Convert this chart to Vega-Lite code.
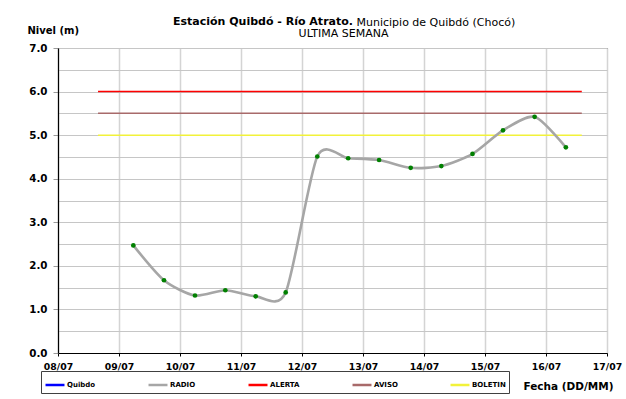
{
  "$schema": "https://vega.github.io/schema/vega-lite/v6.json",
  "autosize": {"type": "none"},
  "padding": {"left": 58, "top": 48, "right": 19, "bottom": 46},
  "width": 549,
  "height": 305,
  "background": "white",
  "title": {
    "text": "Estación Quibdó - Río Atrato.",
    "anchor": "start",
    "frame": "group",
    "dx": 115,
    "dy": 11,
    "font": "DejaVu Sans",
    "fontSize": 11,
    "fontWeight": "bold",
    "color": "black",
    "offset": 0
  },
  "datasets": {
    "radio": [
      {"fecha": "2024-07-09T05:38:00Z", "nivel": 2.47, "serie": "RADIO"},
      {"fecha": "2024-07-09T17:42:00Z", "nivel": 1.67, "serie": "RADIO"},
      {"fecha": "2024-07-10T05:54:00Z", "nivel": 1.32, "serie": "RADIO"},
      {"fecha": "2024-07-10T17:50:00Z", "nivel": 1.44, "serie": "RADIO"},
      {"fecha": "2024-07-11T05:47:00Z", "nivel": 1.30, "serie": "RADIO"},
      {"fecha": "2024-07-11T17:35:00Z", "nivel": 1.39, "serie": "RADIO"},
      {"fecha": "2024-07-12T06:01:00Z", "nivel": 4.51, "serie": "RADIO"},
      {"fecha": "2024-07-12T18:10:00Z", "nivel": 4.47, "serie": "RADIO"},
      {"fecha": "2024-07-13T06:20:00Z", "nivel": 4.43, "serie": "RADIO"},
      {"fecha": "2024-07-13T18:46:00Z", "nivel": 4.25, "serie": "RADIO"},
      {"fecha": "2024-07-14T06:49:00Z", "nivel": 4.29, "serie": "RADIO"},
      {"fecha": "2024-07-14T19:05:00Z", "nivel": 4.57, "serie": "RADIO"},
      {"fecha": "2024-07-15T07:05:00Z", "nivel": 5.11, "serie": "RADIO"},
      {"fecha": "2024-07-15T19:31:00Z", "nivel": 5.42, "serie": "RADIO"},
      {"fecha": "2024-07-16T07:49:00Z", "nivel": 4.72, "serie": "RADIO"}
    ],
    "umbrales": [
      {"serie": "ALERTA", "nivel": 6.0, "inicio": "2024-07-08T15:45:00Z", "fin": "2024-07-16T14:05:00Z"},
      {"serie": "AVISO", "nivel": 5.5, "inicio": "2024-07-08T15:45:00Z", "fin": "2024-07-16T14:05:00Z"},
      {"serie": "BOLETIN", "nivel": 5.0, "inicio": "2024-07-08T15:45:00Z", "fin": "2024-07-16T14:05:00Z"}
    ]
  },
  "resolve": {"axis": {"x": "independent", "y": "independent"}},
  "layer": [
    {
      "data": {"name": "umbrales"},
      "mark": {"type": "rule", "strokeWidth": 1.5},
      "encoding": {
        "x": {
          "field": "inicio",
          "type": "temporal",
          "scale": {
            "type": "utc",
            "domain": [
              {"year": 2024, "month": 7, "date": 8, "utc": true},
              {"year": 2024, "month": 7, "date": 17, "utc": true}
            ]
          },
          "axis": {
            "orient": "bottom",
            "values": [
              {"year": 2024, "month": 7, "date": 8, "utc": true},
              {"year": 2024, "month": 7, "date": 9, "utc": true},
              {"year": 2024, "month": 7, "date": 10, "utc": true},
              {"year": 2024, "month": 7, "date": 11, "utc": true},
              {"year": 2024, "month": 7, "date": 12, "utc": true},
              {"year": 2024, "month": 7, "date": 13, "utc": true},
              {"year": 2024, "month": 7, "date": 14, "utc": true},
              {"year": 2024, "month": 7, "date": 15, "utc": true},
              {"year": 2024, "month": 7, "date": 16, "utc": true},
              {"year": 2024, "month": 7, "date": 17, "utc": true}
            ],
            "format": "%d/%m",
            "labelFont": "DejaVu Sans",
            "labelFontWeight": "bold",
            "labelFontSize": 9.3,
            "labelColor": "black",
            "labelPadding": 6,
            "labelFlush": false,
            "labelOverlap": false,
            "tickSize": 3,
            "tickColor": "black",
            "domainColor": "black",
            "domainWidth": 1.2,
            "grid": true,
            "gridColor": "#d4d4d4",
            "gridWidth": 1.5,
            "title": "Fecha (DD/MM)",
            "titleFont": "DejaVu Sans",
            "titleFontWeight": "bold",
            "titleFontSize": 10.5,
            "titleColor": "black",
            "titleAlign": "right",
            "titleAnchor": null,
            "titleBaseline": "alphabetic",
            "titleX": 555,
            "titleY": 36
          }
        },
        "x2": {"field": "fin"},
        "y": {
          "field": "nivel",
          "type": "quantitative",
          "scale": {"domain": [0, 7], "nice": false, "zero": true},
          "axis": {
            "orient": "left",
            "values": [0, 0.5, 1, 1.5, 2, 2.5, 3, 3.5, 4, 4.5, 5, 5.5, 6, 6.5, 7],
            "labelExpr": "datum.value % 1 === 0 ? format(datum.value, '.1f') : ''",
            "tickOpacity": {"condition": {"test": "datum.value % 1 === 0", "value": 1}, "value": 0},
            "tickSize": 5,
            "tickColor": "#9a9a9a",
            "labelFont": "DejaVu Sans",
            "labelFontWeight": "bold",
            "labelFontSize": 10.3,
            "labelColor": "black",
            "labelPadding": 6,
            "labelFlush": false,
            "labelOverlap": false,
            "domainColor": "black",
            "domainWidth": 1.2,
            "grid": true,
            "gridColor": "#c6c6c6",
            "gridWidth": 1,
            "title": "Nivel (m)",
            "titleFont": "DejaVu Sans",
            "titleFontWeight": "bold",
            "titleFontSize": 10,
            "titleColor": "black",
            "titleAngle": 0,
            "titleAlign": "left",
            "titleAnchor": null,
            "titleBaseline": "alphabetic",
            "titleX": -31,
            "titleY": -15
          }
        },
        "color": {
          "field": "serie",
          "type": "nominal",
          "scale": {
            "domain": ["Quibdo", "RADIO", "ALERTA", "AVISO", "BOLETIN"],
            "range": ["#0000ff", "#a6a6a6", "#ff0000", "#a86a6a", "#f2f23a"]
          },
          "legend": {
            "orient": "none",
            "legendX": -17,
            "legendY": 323,
            "direction": "horizontal",
            "columns": 5,
            "title": null,
            "symbolType": "stroke",
            "symbolSize": 360,
            "symbolStrokeWidth": 2.5,
            "labelFont": "DejaVu Sans",
            "labelFontWeight": "bold",
            "labelFontSize": 7,
            "labelColor": "black",
            "labelOffset": 1,
            "columnPadding": 47,
            "padding": 3,
            "strokeColor": "#404040",
            "fillColor": "white"
          }
        }
      }
    },
    {
      "data": {"name": "radio"},
      "mark": {"type": "line", "interpolate": "cardinal", "tension": 0.25, "strokeWidth": 2.6},
      "encoding": {
        "x": {
          "field": "fecha",
          "type": "temporal",
          "axis": {
            "orient": "top",
            "labels": false,
            "ticks": false,
            "domain": false,
            "grid": false,
            "title": "Municipio de Quibdó (Chocó)",
            "titleFont": "DejaVu Sans",
            "titleFontWeight": "normal",
            "titleFontSize": 11,
            "titleColor": "black",
            "titleAlign": "left",
            "titleAnchor": null,
            "titleBaseline": "alphabetic",
            "titleX": 298,
            "titleY": -23
          }
        },
        "y": {
          "field": "nivel",
          "type": "quantitative",
          "axis": {
            "orient": "right",
            "labels": false,
            "ticks": false,
            "domain": false,
            "grid": false,
            "title": "ULTIMA SEMANA",
            "titleFont": "DejaVu Sans",
            "titleFontWeight": "normal",
            "titleFontSize": 11,
            "titleColor": "black",
            "titleAngle": 0,
            "titleAlign": "center",
            "titleAnchor": null,
            "titleBaseline": "alphabetic",
            "titleX": -264,
            "titleY": -12
          }
        },
        "color": {"field": "serie", "type": "nominal"}
      }
    },
    {
      "data": {"name": "radio"},
      "mark": {"type": "point", "filled": true, "color": "#008000", "size": 22, "opacity": 1},
      "encoding": {
        "x": {"field": "fecha", "type": "temporal", "axis": null},
        "y": {"field": "nivel", "type": "quantitative", "axis": null}
      }
    }
  ],
  "config": {
    "view": {"stroke": "#404040", "strokeWidth": 1}
  }
}
